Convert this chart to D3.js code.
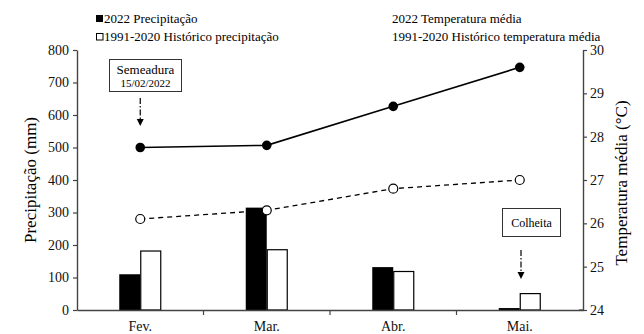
<!DOCTYPE html>
<html><head><meta charset="utf-8">
<script src="https://cdn.jsdelivr.net/npm/d3@7"></script>
<style>body{margin:0;background:#fff}svg text{font-family:"Liberation Serif","Times New Roman","DejaVu Serif",serif !important}</style>
</head><body><svg id="c" width="644" height="334"></svg>
<script>
const months = ["Fev.", "Mar.", "Abr.", "Mai."];
const precip2022 = [110, 315, 132, 6];
const precipHist = [183, 187, 120, 52];
const temp2022 = [27.75, 27.8, 28.7, 29.6];
const tempHist = [26.1, 26.3, 26.8, 27.0];
const precipTicks = [0,100,200,300,400,500,600,700,800];
const tempTicks = [24,25,26,27,28,29,30];

const FONT = '"Liberation Serif","Times New Roman","DejaVu Serif",serif';
const svg = d3.select("#c").attr("font-family", FONT);
const L = 77, R = 583, T = 50, B = 310;
const x = d3.scaleBand().domain(months).range([L, R]);
const yP = d3.scaleLinear().domain([0, 800]).range([B, T]);
const yT = d3.scaleLinear().domain([24, 30]).range([B, T]);
const bw = 21;
const axisColor = "#444";

// bars
const g = svg.append("g");
g.selectAll(".b1").data(months).enter().append("rect")
  .attr("x", d => x(d) + x.bandwidth()/2 - bw)
  .attr("y", (d,i) => yP(precip2022[i]))
  .attr("width", bw).attr("height", (d,i) => B - yP(precip2022[i]))
  .attr("fill", "#000");
g.selectAll(".b2").data(months).enter().append("rect")
  .attr("x", d => x(d) + x.bandwidth()/2 + 0.5)
  .attr("y", (d,i) => yP(precipHist[i]) + 0.5)
  .attr("width", bw - 1).attr("height", (d,i) => B - yP(precipHist[i]) - 0.5)
  .attr("fill", "#fff").attr("stroke", "#000").attr("stroke-width", 1.2);

// axes
const axL = svg.append("g").attr("transform", `translate(${L},0)`)
  .call(d3.axisLeft(yP).tickValues(precipTicks).tickFormat(d3.format("d")).tickSize(4).tickSizeOuter(0));
const axR = svg.append("g").attr("transform", `translate(${R},0)`)
  .call(d3.axisRight(yT).tickValues(tempTicks).tickFormat(d3.format("d")).tickSize(4).tickSizeOuter(0));
const axB = svg.append("g").attr("transform", `translate(0,${B})`)
  .call(d3.axisBottom(x).tickSize(0).tickSizeOuter(0));
[axL, axR, axB].forEach(a => {
  a.attr("font-family", FONT);
  a.select(".domain").attr("stroke", axisColor).attr("stroke-width", 1.4);
  a.selectAll(".tick line").attr("stroke", axisColor).attr("stroke-width", 1.2);
  a.selectAll("text").attr("font-size", 14).attr("fill", "#111");
});
axL.selectAll("text").attr("x", -8);
axR.selectAll("text").attr("x", 7);
axB.selectAll("text").attr("dy", "0").attr("y", 21);
// category separator ticks on x axis
svg.append("g").selectAll("line").data(months.slice(1)).enter().append("line")
  .attr("x1", d => x(d)).attr("x2", d => x(d))
  .attr("y1", B).attr("y2", B + 5)
  .attr("stroke", axisColor).attr("stroke-width", 1.2);
// cross tick at bottom of right axis
svg.append("line").attr("x1", R - 4).attr("x2", R).attr("y1", B).attr("y2", B)
  .attr("stroke", axisColor).attr("stroke-width", 1.2);

// temperature lines
const cx = d => x(d) + x.bandwidth()/2;
const line2022 = d3.line().x((d,i) => cx(months[i])).y(d => yT(d));
svg.append("path").attr("d", line2022(temp2022)).attr("fill", "none")
  .attr("stroke", "#000").attr("stroke-width", 1.6);
svg.append("path").attr("d", line2022(tempHist)).attr("fill", "none")
  .attr("stroke", "#000").attr("stroke-width", 1.3).attr("stroke-dasharray", "5,4");
svg.selectAll(".p1").data(temp2022).enter().append("circle")
  .attr("cx", (d,i) => cx(months[i])).attr("cy", d => yT(d)).attr("r", 4.8).attr("fill", "#000");
svg.selectAll(".p2").data(tempHist).enter().append("circle")
  .attr("cx", (d,i) => cx(months[i])).attr("cy", d => yT(d)).attr("r", 4.5)
  .attr("fill", "#fff").attr("stroke", "#000").attr("stroke-width", 1.2);

// axis titles
svg.append("text").attr("transform", `translate(36,${(T+B)/2}) rotate(-90)`)
  .attr("text-anchor", "middle").attr("font-size", 17).text("Precipitação (mm)");
svg.append("text").attr("transform", `translate(627,${(T+B)/2 + 3}) rotate(-90)`)
  .attr("text-anchor", "middle").attr("font-size", 17).text("Temperatura média (°C)");

// legend
svg.append("rect").attr("x", 96).attr("y", 15).attr("width", 7).attr("height", 7).attr("fill", "#000");
svg.append("rect").attr("x", 96.5).attr("y", 33.5).attr("width", 6.5).attr("height", 6.5)
  .attr("fill", "#fff").attr("stroke", "#000").attr("stroke-width", 1);
svg.append("text").attr("x", 104).attr("y", 22.5).attr("font-size", 13).text("2022 Precipitação");
svg.append("text").attr("x", 104).attr("y", 41).attr("font-size", 13).text("1991-2020 Histórico precipitação");
svg.append("text").attr("x", 392).attr("y", 22.5).attr("font-size", 13).text("2022 Temperatura média");
svg.append("text").attr("x", 392).attr("y", 41).attr("font-size", 13).text("1991-2020 Histórico temperatura média");

// annotations
function arrow(xc, y1, y2) {
  svg.append("line").attr("x1", xc).attr("x2", xc).attr("y1", y1).attr("y2", y2 - 6)
    .attr("stroke", "#000").attr("stroke-width", 1.2).attr("stroke-dasharray", "6,2,1.5,2");
  svg.append("path").attr("d", `M${xc-3.5},${y2-7}L${xc+3.5},${y2-7}L${xc},${y2}Z`).attr("fill", "#000");
}
svg.append("rect").attr("x", 109.5).attr("y", 59.5).attr("width", 72).attr("height", 32)
  .attr("fill", "#fff").attr("stroke", "#333").attr("stroke-width", 1);
svg.append("text").attr("x", 145.5).attr("y", 74).attr("text-anchor", "middle").attr("font-size", 13).text("Semeadura");
svg.append("text").attr("x", 145.5).attr("y", 87).attr("text-anchor", "middle").attr("font-size", 11).text("15/02/2022");
arrow(cx("Fev."), 98, 126);

svg.append("rect").attr("x", 502.5).attr("y", 208.5).attr("width", 58).attr("height", 28)
  .attr("fill", "#fff").attr("stroke", "#333").attr("stroke-width", 1);
svg.append("text").attr("x", 531.5).attr("y", 227).attr("text-anchor", "middle").attr("font-size", 12).text("Colheita");
arrow(521, 250, 279);
</script></body></html>
